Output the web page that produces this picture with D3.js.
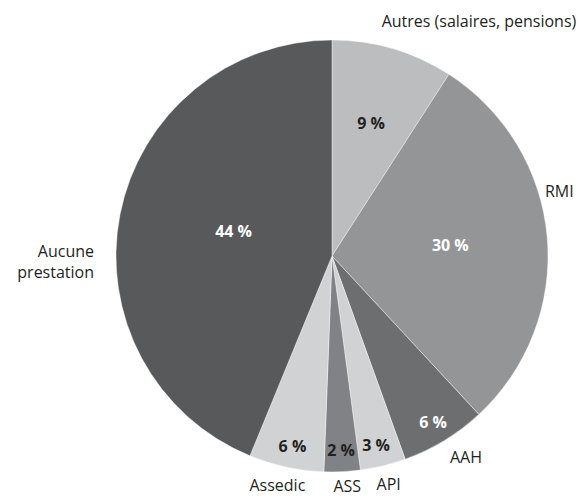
<!DOCTYPE html>
<html>
<head>
<meta charset="utf-8">
<script src="https://cdn.jsdelivr.net/npm/d3@7"></script>
<style>
	body { margin: 0; background: #fff; }
	svg text { font-family: "Open Sans", "Noto Sans", sans-serif; }
</style>
</head>
<body>
<svg id="chart" width="585" height="497"></svg>
<script>
(function (d3) {
	"use strict";

	/***** Data *****/
	// categories, clockwise from 12 o'clock
	var categories = ["Autres (salaires, pensions)", "RMI", "AAH", "API", "ASS", "Assedic", "Aucune prestation"];
	// shares (in %)
	var shares = [9.1, 29.0, 6.4, 3.4, 2.7, 5.6, 43.8];
	// printed labels
	var pctLabels = ["9 %", "30 %", "6 %", "3 %", "2 %", "6 %", "44 %"];

	// grey fills of the slices
	var fills = ["#bcbdbf", "#949597", "#6d6e70", "#d1d2d4", "#808285", "#d1d2d4", "#58595b"];
	var pctColors = ["#231f20", "#ffffff", "#ffffff", "#231f20", "#231f20", "#231f20", "#ffffff"];

	/***** Layout *****/
	const cx = 332, cy = 256, radius = 216;
	const deg = Math.PI / 180;

	var svg = d3.select("#chart");
	var g = svg.append("g").attr("transform", "translate(" + cx + "," + cy + ")");

	var data = categories.map(function (c, i) {
		return { name: c, value: shares[i], label: pctLabels[i], fill: fills[i], txt: pctColors[i] };
	});

	var pie = d3.pie().sort(null).value(function (d) { return d.value; });
	var arcs = pie(data);
	var arc = d3.arc().innerRadius(0).outerRadius(radius);

	// slices
	g.selectAll("path.slice")
		.data(arcs)
		.enter().append("path")
		.attr("class", "slice")
		.attr("d", arc)
		.attr("fill", function (d) { return d.data.fill; })
		.attr("stroke", "#ffffff")
		.attr("stroke-width", 0.4);

	// percentage labels: small slices near the rim, larger ones further in
	function labelRadius(v) {
		if (v > 40) return radius * 0.47;
		if (v > 20) return radius * 0.55;
		if (v > 8) return radius * 0.64;
		return radius * 0.9;
	}
	// angle clockwise from 12 o'clock
	function polar(angle, r) {
		return [Math.sin(angle) * r, -Math.cos(angle) * r];
	}

	// small shift where the print deviates from the mid angle
	var pctShift = { "Aucune prestation": 3 * deg, "Assedic": -0.5 * deg, "API": 0.6 * deg };

	g.selectAll("text.pct")
		.data(arcs)
		.enter().append("text")
		.attr("class", "pct")
		.attr("transform", function (d) {
			var a = (d.startAngle + d.endAngle) / 2 + (pctShift[d.data.name] || 0);
			var p = polar(a, labelRadius(d.data.value));
			return "translate(" + p[0] + "," + p[1] + ")";
		})
		.attr("text-anchor", "middle")
		.attr("dy", "0.36em")
		.attr("font-size", "16px")
		.attr("font-weight", "bold")
		.attr("fill", function (d) { return d.data.txt; })
		.text(function (d) { return d.data.label; });

	/***** Category labels outside the pie *****/
	// baseline anchor of each label, polar from the pie centre
	var outer = {
		"Autres (salaires, pensions)": { angle: 32.7, r: 272, anchor: "middle" },
		"RMI": { angle: 74.5, r: 221, anchor: "start" },
		"AAH": { angle: 150.3, r: 238, anchor: "start" },
		"API": { angle: 166.4, r: 241, anchor: "middle" },
		"ASS": { angle: 176.3, r: 236, anchor: "middle" },
		"Assedic": { angle: 193.1, r: 241, anchor: "middle" },
		"Aucune prestation": { angle: 269.8, r: 238, anchor: "end" }
	};

	arcs.forEach(function (d) {
		var o = outer[d.data.name];
		var p = polar(o.angle * deg, o.r);
		var words = d.data.name === "Aucune prestation" ? ["Aucune", "prestation"] : [d.data.name];
		var t = g.append("text")
			.attr("x", p[0])
			.attr("y", p[1])
			.attr("text-anchor", o.anchor)
			.attr("font-size", "16px")
			.attr("fill", "#231f20");
		words.forEach(function (w, i) {
			t.append("tspan")
				.attr("x", p[0])
				.attr("dy", i === 0 ? 0 : 21)
				.text(w);
		});
	});

})(d3);
</script>
</body>
</html>
